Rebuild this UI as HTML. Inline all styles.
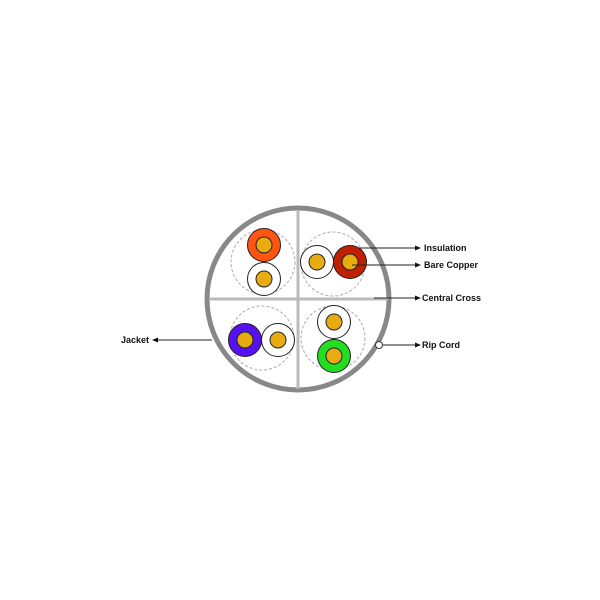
<!DOCTYPE html>
<html><head><meta charset="utf-8"><style>
html,body{margin:0;padding:0;background:#fff;width:600px;height:600px;overflow:hidden}
text{font-family:"Liberation Sans",sans-serif;font-weight:bold;font-size:9px;fill:#111}
</style></head><body>
<svg width="600" height="600" viewBox="0 0 600 600" xmlns="http://www.w3.org/2000/svg">
<defs><marker id="a" markerWidth="6" markerHeight="6" refX="5" refY="3" orient="auto"><path d="M0,0.5 L6,3 L0,5.5z" fill="#111"/></marker></defs>
<circle cx="298" cy="299" r="91" fill="#fff" stroke="#888" stroke-width="5"/>
<line x1="298" y1="210" x2="298" y2="389" stroke="#bbb" stroke-width="3"/>
<line x1="209" y1="299" x2="388" y2="299" stroke="#bbb" stroke-width="3"/>
<g fill="none" stroke="#aaa" stroke-dasharray="3,2" stroke-width="1">
<circle cx="263" cy="262" r="32"/><circle cx="333" cy="264" r="32"/>
<circle cx="262" cy="338" r="32"/><circle cx="333" cy="338" r="32"/>
</g>
<g stroke="#222" stroke-width="1">
<circle cx="264" cy="245" r="16.5" fill="#ff5511"/><circle cx="264" cy="245" r="8" fill="#e8ac10"/>
<circle cx="264" cy="279" r="16.5" fill="#fff"/><circle cx="264" cy="279" r="8" fill="#e8ac10"/>
<circle cx="317" cy="262" r="16.5" fill="#fff"/><circle cx="317" cy="262" r="8" fill="#e8ac10"/>
<circle cx="350" cy="262" r="16.5" fill="#c02000"/><circle cx="350" cy="262" r="8" fill="#e8ac10"/>
<circle cx="245" cy="340" r="16.5" fill="#5511ee"/><circle cx="245" cy="340" r="8" fill="#e8ac10"/>
<circle cx="278" cy="340" r="16.5" fill="#fff"/><circle cx="278" cy="340" r="8" fill="#e8ac10"/>
<circle cx="334" cy="322" r="16.5" fill="#fff"/><circle cx="334" cy="322" r="8" fill="#e8ac10"/>
<circle cx="334" cy="356" r="16.5" fill="#22dd22"/><circle cx="334" cy="356" r="8" fill="#e8ac10"/>
</g>
<g stroke="#222" stroke-width="1" marker-end="url(#a)">
<line x1="358" y1="248" x2="420" y2="248"/>
<line x1="352" y1="265" x2="420" y2="265"/>
<line x1="374" y1="298" x2="420" y2="298"/>
<line x1="383" y1="345" x2="420" y2="345"/>
<line x1="212" y1="340" x2="153" y2="340"/>
</g>
<circle cx="379" cy="345" r="3.5" fill="#fff" stroke="#333" stroke-width="1"/>
<text x="424" y="251">Insulation</text>
<text x="424" y="268">Bare Copper</text>
<text x="422" y="301">Central Cross</text>
<text x="422" y="348">Rip Cord</text>
<text x="121" y="343">Jacket</text>
</svg>
</body></html>
